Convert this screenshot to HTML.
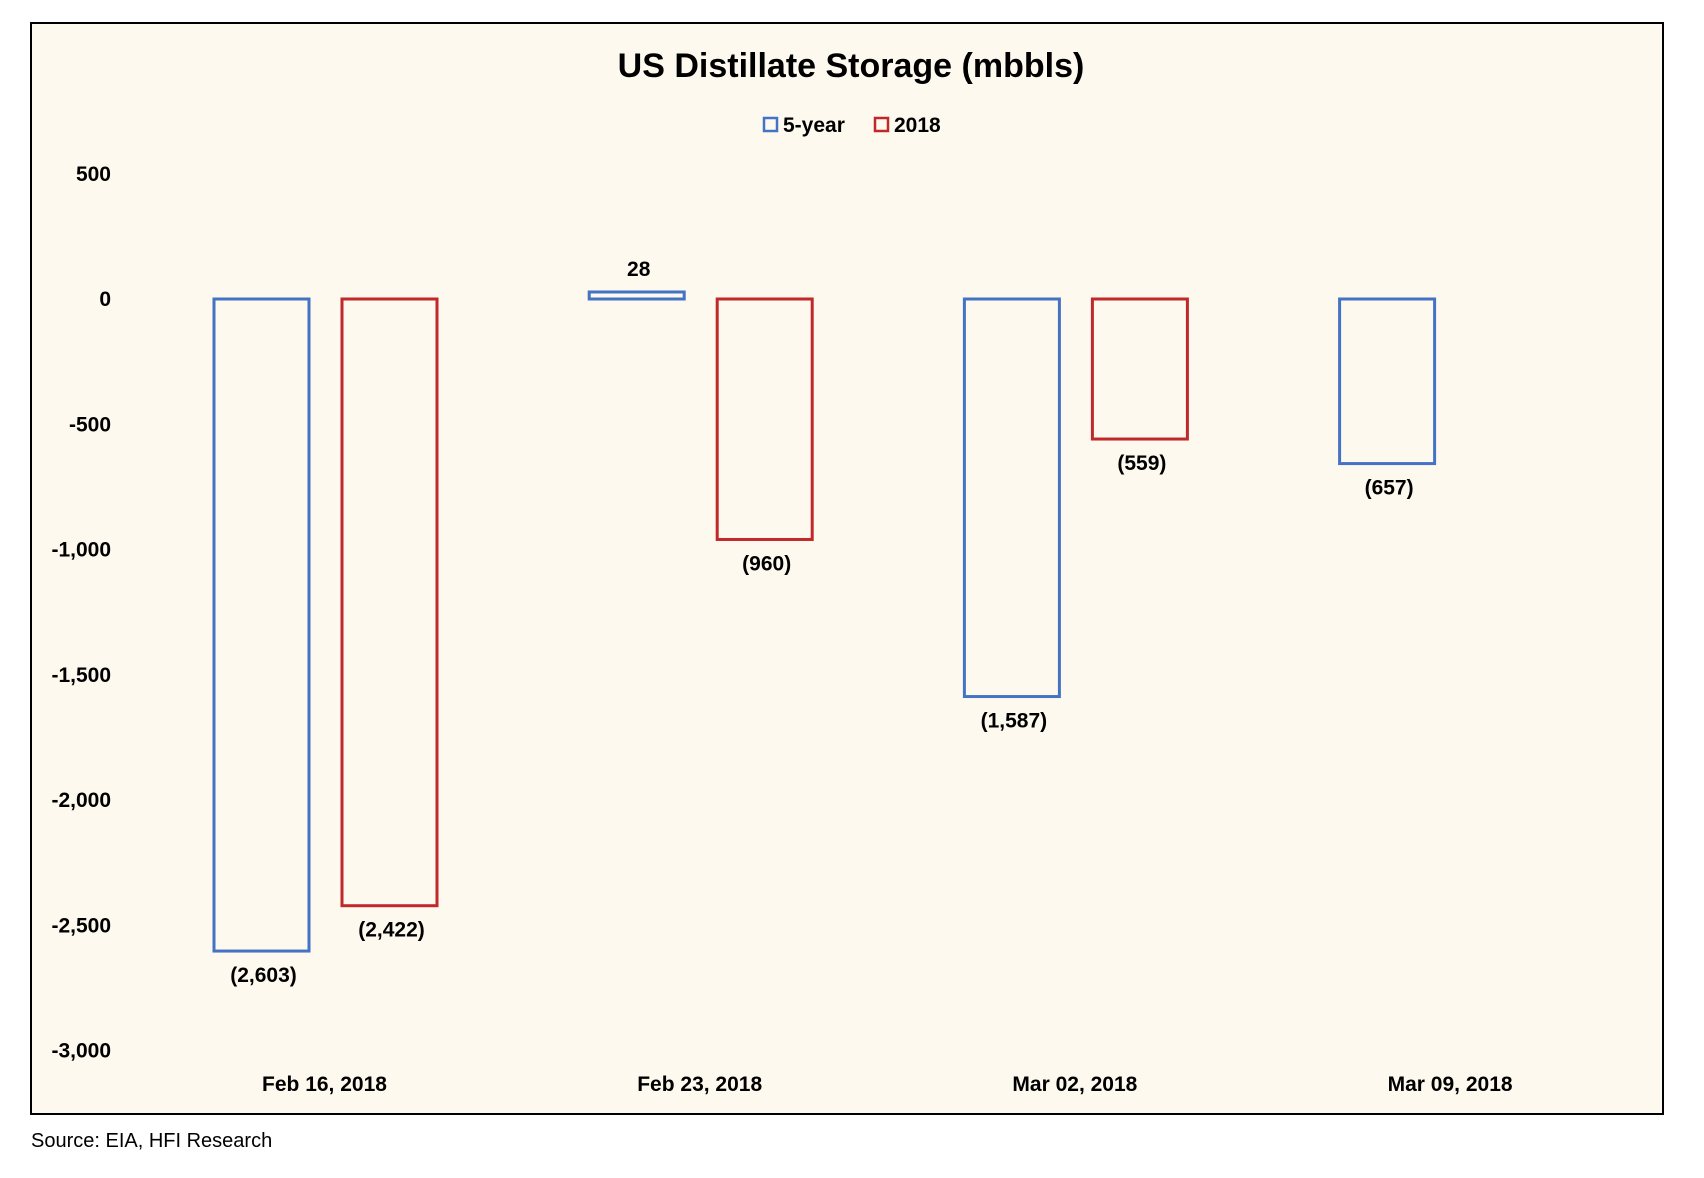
<!DOCTYPE html>
<html><head><meta charset="utf-8"><style>
body{margin:0;background:#fff;}
svg{display:block;font-family:"Liberation Sans",sans-serif;}
</style></head><body>
<svg id="chart" width="1704" height="1178">
<rect x="31" y="23" width="1632" height="1091" fill="#fdf9ee" stroke="#000" stroke-width="2"/>
<text x="851" y="77" text-anchor="middle" font-size="34" font-weight="bold">US Distillate Storage (mbbls)</text>
<g>
<rect x="764" y="118" width="13" height="13" fill="none" stroke="#4472c4" stroke-width="2.5"/>
<text x="783" y="132" font-size="21" font-weight="bold">5-year</text>
<rect x="875" y="118" width="13" height="13" fill="none" stroke="#c0282a" stroke-width="2.5"/>
<text x="894" y="132" font-size="21" font-weight="bold">2018</text>
</g>
<g id="yaxis"></g>
<g id="bars"></g>
<g id="xaxis"></g>
<text x="31" y="1147" font-size="20">Source: EIA, HFI Research</text>
</svg>
<script>
const categories = ["Feb 16, 2018","Feb 23, 2018","Mar 02, 2018","Mar 09, 2018"];
const fiveYear = [-2603, 28, -1587, -657];
const y2018 = [-2422, -960, -559, null];
const yTicks = [500, 0, -500, -1000, -1500, -2000, -2500, -3000];
const NS="http://www.w3.org/2000/svg";
function yS(v){return 299 - v*0.2505;}
function xS(i){return 324.5 + i*375.2;}
function fmt(v){const s=Math.abs(v).toLocaleString('en-US');return v<0?'('+s+')':s;}
function tickFmt(v){return v.toLocaleString('en-US');}
const ya=document.getElementById('yaxis');
yTicks.forEach(t=>{
  const tx=document.createElementNS(NS,'text');
  
  
  tx.setAttribute('x',111);tx.setAttribute('y',yS(t)+7);
  tx.setAttribute('text-anchor','end');tx.setAttribute('font-size','21');tx.setAttribute('font-weight','bold');
  tx.textContent=tickFmt(t);ya.appendChild(tx);
});
const xa=document.getElementById('xaxis');
categories.forEach((c,i)=>{
  const tx=document.createElementNS(NS,'text');
  
  
  tx.setAttribute('x',xS(i));tx.setAttribute('y',1091);
  tx.setAttribute('text-anchor','middle');tx.setAttribute('font-size','21');tx.setAttribute('font-weight','bold');
  tx.textContent=c;xa.appendChild(tx);
});
const bg=document.getElementById('bars');
function drawSeries(vals,off,color,name){
  vals.forEach((v,i)=>{
    if(v===null)return;
    const cx=xS(i)+off, w=95;
    const y0=yS(0), y1=yS(v);
    const r=document.createElementNS(NS,'rect');
    
    
    r.setAttribute('x',cx-w/2);r.setAttribute('y',Math.min(y0,y1));
    r.setAttribute('width',w);r.setAttribute('height',Math.max(Math.abs(y1-y0),1));
    r.setAttribute('fill','none');r.setAttribute('stroke',color);r.setAttribute('stroke-width','3');
    bg.appendChild(r);
    const tx=document.createElementNS(NS,'text');
    
    
    tx.setAttribute('x',cx+2);
    tx.setAttribute('y',v<0?y1+31:y1-16);
    tx.setAttribute('text-anchor','middle');tx.setAttribute('font-size','21');tx.setAttribute('font-weight','bold');
    tx.textContent=fmt(v);bg.appendChild(tx);
  });
}
drawSeries(fiveYear,-63,'#4472c4','5-year');
drawSeries(y2018,65,'#c0282a','2018');
</script>
</body></html>
